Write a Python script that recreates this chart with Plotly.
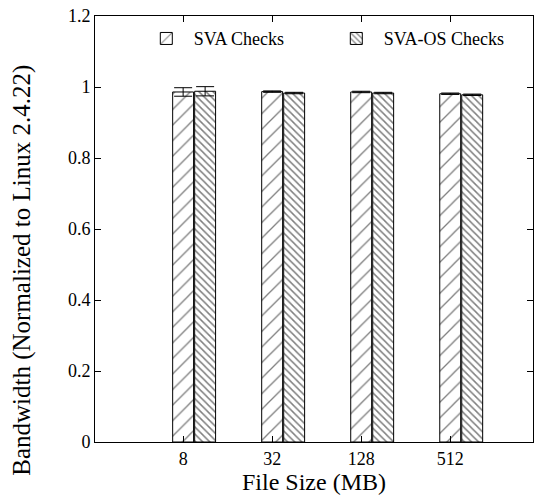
import plotly.graph_objects as go

categories = ["8", "32", "128", "512"]
sva = [0.986, 0.987, 0.986, 0.981]
sva_err = [0.012, 0.002, 0.002, 0.002]
sva_os = [0.988, 0.983, 0.983, 0.978]
sva_os_err = [0.013, 0.002, 0.002, 0.002]
y_ticks = [0, 0.2, 0.4, 0.6, 0.8, 1, 1.2]
y_ticktext = ["0", "0.2", "0.4", "0.6", "0.8", "1", "1.2"]

idx = list(range(len(categories)))
bar_w = 0.235
offset = 0.247

fig = go.Figure()
fig.add_trace(go.Bar(
    x=idx, y=sva, width=bar_w, name="SVA Checks",
    marker=dict(color="white", line=dict(color="black", width=1),
                pattern=dict(shape="/", fgcolor="black", bgcolor="white", size=11, solidity=0.12)),
    error_y=dict(type="data", array=sva_err, color="black", thickness=1, width=9),
))
fig.add_trace(go.Bar(
    x=[i + offset for i in idx], y=sva_os, width=bar_w, name="SVA-OS Checks",
    marker=dict(color="white", line=dict(color="black", width=1),
                pattern=dict(shape="\\", fgcolor="black", bgcolor="white", size=5, solidity=0.3)),
    error_y=dict(type="data", array=sva_os_err, color="black", thickness=1, width=9),
))

font = "Liberation Serif"
fig.update_layout(
    width=534, height=500,
    margin=dict(l=95, r=1, t=16, b=58),
    plot_bgcolor="white", paper_bgcolor="white",
    barmode="overlay",
    font=dict(family=font, size=18, color="black"),
    showlegend=True,
    legend=dict(orientation="h", x=0.10, y=0.99, xanchor="left", yanchor="top",
                bgcolor="rgba(0,0,0,0)", font=dict(size=18, family=font),
                itemwidth=45, tracegroupgap=0, entrywidth=130),
    xaxis=dict(
        range=[-0.99, 3.93], tickvals=idx, ticktext=categories,
        showline=True, linecolor="black", linewidth=1, mirror="ticks",
        ticks="inside", ticklen=6, tickcolor="black", showgrid=False, zeroline=False,
        title=dict(text="File Size (MB)", font=dict(size=24, family=font), standoff=4),
        tickfont=dict(size=18, family=font),
    ),
    yaxis=dict(
        range=[0, 1.2], tickvals=y_ticks, ticktext=y_ticktext,
        showline=True, linecolor="black", linewidth=1, mirror="ticks",
        ticks="inside", ticklen=6, tickcolor="black", showgrid=False, zeroline=False,
        tickfont=dict(size=18, family=font),
    ),
    annotations=[dict(
        text="Bandwidth (Normalized to Linux 2.4.22)", textangle=-90,
        xref="paper", yref="paper", x=-0.167, y=0.404,
        xanchor="center", yanchor="middle", showarrow=False,
        font=dict(size=25, family=font, color="black"),
    )],
)

fig.write_html("out.html")
